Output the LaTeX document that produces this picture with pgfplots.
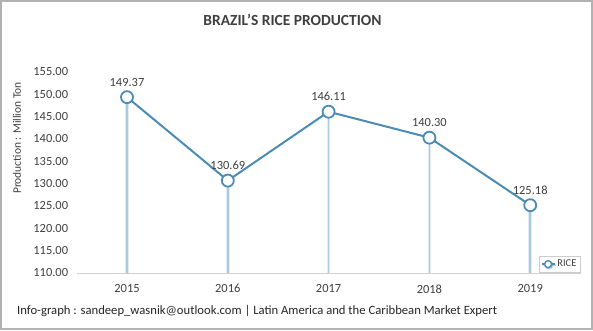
\documentclass[border=0pt]{standalone}
\usepackage{pgfplots}
\pgfplotsset{compat=1.18}
\usepackage{fontspec}
\setmainfont{Carlito}
\usetikzlibrary{shadows}
\definecolor{lineblue}{RGB}{74,140,180}
\definecolor{dropblue}{RGB}{170,202,222}
\definecolor{droplight}{RGB}{225,236,244}
\definecolor{txt}{RGB}{64,64,64}
\begin{document}
\begin{tikzpicture}[x=1bp,y=1bp]
\useasboundingbox (0,0) rectangle (593,330);
\draw[line width=2bp, draw=black!30, fill=white] (1,1) rectangle (592,329);
\begin{axis}[
  at={(76.6bp,57bp)}, anchor=south west,
  scale only axis, width=504bp, height=201bp,
  xmin=2014.5, xmax=2019.5,
  ymin=110, ymax=155,
  xtick={2015,2016,2017,2018,2019},
  xticklabels={2015,2016,2017,2018,2019},
  ytick={110,115,...,155},
  yticklabel={\pgfmathprintnumber[fixed,fixed zerofill,precision=2]{\tick}},
  /pgf/number format/assume math mode=true,
  major tick length=0,
  separate axis lines,
  axis x line*=bottom,
  axis y line*=left,
  x axis line style={draw=black!18, line width=0.8bp, -},
  y axis line style={draw=none, -},
  ticklabel style={font=\fontsize{12.5}{14}\selectfont, text=txt},
  yticklabel style={xshift=-5bp},
  xticklabel style={yshift=-8bp},
  legend style={at={(rel axis cs:1,0)}, anchor=south east, yshift=1bp,
    draw=black!20, fill=white, drop shadow={shadow xshift=1bp, shadow yshift=-1bp, opacity=0.3},
    font=\fontsize{10.5}{12}\selectfont, text=txt, inner xsep=2bp, inner ysep=1.5bp,
    legend cell align=left},
  legend image code/.code={
    \draw[line width=1.6bp, draw=lineblue] (0bp,0bp) -- (13bp,0bp);
    \draw[line width=1.4bp, draw=lineblue, fill=white] (6.5bp,0bp) circle (3.5bp);
  },
  clip=true,
]
\addplot[ycomb, draw=droplight, line width=3.5bp, forget plot] coordinates {
  (2015,149.37) (2016,130.69) (2017,146.11) (2018,140.30) (2019,125.18)};
\addplot[ycomb, draw=dropblue, line width=1.5bp, forget plot] coordinates {
  (2015,149.37) (2016,130.69) (2017,146.11) (2018,140.30) (2019,125.18)};
\addplot[draw=lineblue, line width=2bp,
  mark=*, mark size=6bp,
  mark options={fill=white, draw=lineblue, line width=1.8bp},
  nodes near coords={\pgfmathprintnumber[fixed,fixed zerofill,precision=2]{\pgfplotspointmeta}},
  nodes near coords style={font=\fontsize{12.5}{14}\selectfont, text=txt, anchor=base, inner sep=0pt, yshift=11bp},
  point meta=explicit,
] coordinates {
  (2015,149.37) [149.37] (2016,130.69) [130.69] (2017,146.11) [146.11] (2018,140.30) [140.30] (2019,125.18) [125.18]};
\addlegendentry{RICE}
\end{axis}
\node[font=\bfseries\fontsize{15.5}{17}\selectfont, text=txt] at (292.5,310) {BRAZIL’S RICE PRODUCTION};
\node[font=\fontsize{11.5}{13}\selectfont, text=txt, rotate=90] at (17,192) {Production : Million Ton};
\node[font=\fontsize{12.7}{14}\selectfont, text=black!85, anchor=west, inner sep=0pt] at (17,19) {Info-graph : sandeep\_wasnik@outlook.com | Latin America and the Caribbean Market Expert};
\end{tikzpicture}
\end{document}
